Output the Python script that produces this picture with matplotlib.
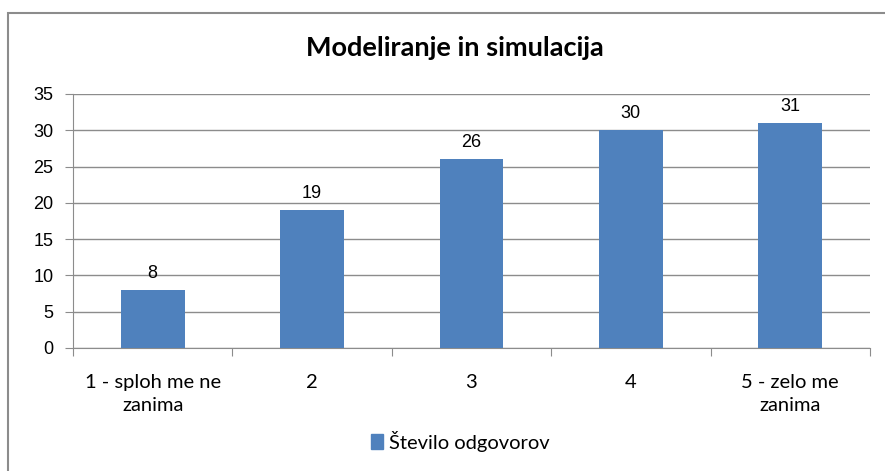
import matplotlib
matplotlib.use("Agg")
import matplotlib.pyplot as plt
from matplotlib.patches import Rectangle, Patch
import numpy as np

categories = ["1 - sploh me ne\nzanima", "2", "3", "4", "5 - zelo me\nzanima"]
values = [8, 19, 26, 30, 31]
series_name = "Število odgovorov"
title = "Modeliranje in simulacija"
yticks = [0, 5, 10, 15, 20, 25, 30, 35]

W, H = 885, 471
fig = plt.figure(figsize=(W/100, H/100), dpi=100)
ax = fig.add_axes([73/W, 1-348/H, (870-73)/W, (348-94)/H])

x = np.arange(len(categories))
color = "#4F81BD"
ax.bar(x, values, width=0.4, color=color, zorder=3)
ax.set_xlim(-0.5, len(categories)-0.5)
ax.set_ylim(0, 35)
ax.set_yticks(yticks)
ax.set_yticklabels([str(v) for v in yticks], fontsize=13, family="Liberation Sans")
ax.yaxis.grid(True, color="#8c8c8c", linewidth=1, zorder=0)
for s in ["top", "right"]:
    ax.spines[s].set_visible(False)
ax.spines["left"].set_color("#8c8c8c")
ax.spines["bottom"].set_color("#8c8c8c")
ax.tick_params(axis="y", length=6, color="#8c8c8c", pad=8)
ax.set_xticks(np.arange(-0.5, len(categories), 1.0), minor=False)
ax.set_xticklabels([])
ax.tick_params(axis="x", length=6, color="#8c8c8c")
ax.set_xticks(x, minor=True)
ax.set_xticklabels(categories, minor=True, fontsize=14.5, family="Lato", linespacing=1.4, va="top")
ax.tick_params(axis="x", which="minor", length=0, pad=19)

for xi, v in zip(x, values):
    ax.text(xi, v + 1.1, str(v), ha="center", va="bottom", fontsize=13, family="Liberation Sans")

fig.text(455/W, 1-48/H, title, ha="center", va="center", fontsize=19.5, fontweight="bold", family="Lato")

fig.legend(handles=[Patch(color=color)], labels=[series_name], loc="center",
           bbox_to_anchor=(460/W, 1-441/H), frameon=False, prop={"family": "Lato", "size": 14.5},
           handlelength=0.6, handleheight=0.75, handletextpad=0.3)

fig.patches.append(Rectangle((8/W, -0.1), 1.2, 1 - 13/H + 0.1, transform=fig.transFigure,
                             fill=False, edgecolor="#8c8c8c", linewidth=1.5))

fig.savefig("out.png", dpi=100)
